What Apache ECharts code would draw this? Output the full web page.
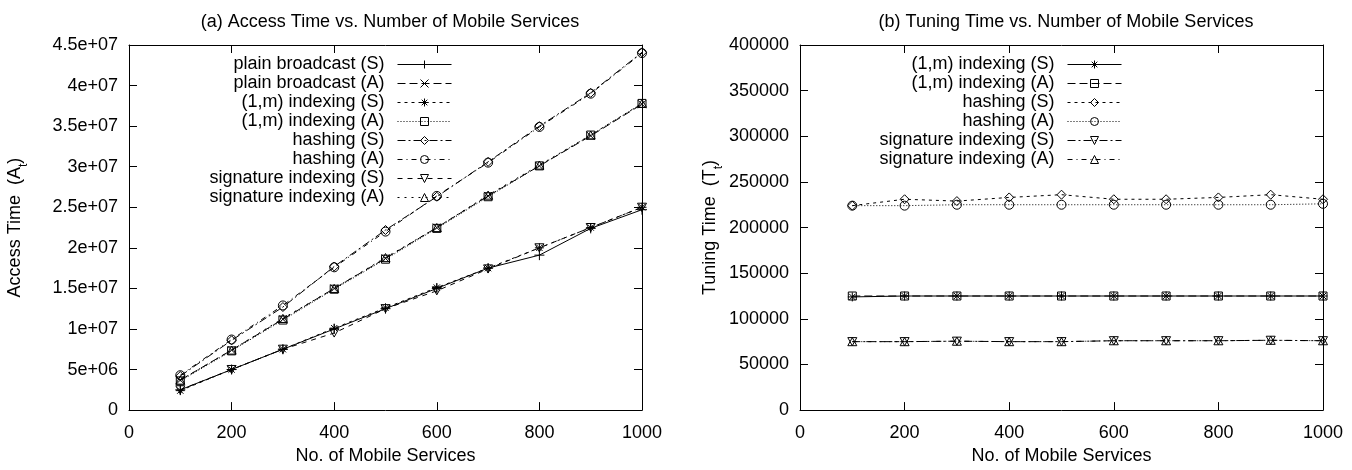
<!DOCTYPE html>
<html><head><meta charset="utf-8">
<script src="https://cdn.jsdelivr.net/npm/echarts@6/dist/echarts.min.js"></script>
<style>html,body{margin:0;padding:0;background:#fff}#c{width:1352px;height:470px}</style>
</head><body><div id="c"></div>
<script>
const services = [100, 200, 300, 400, 500, 600, 700, 800, 900, 1000];
const xTicks = ['0', '200', '400', '600', '800', '1000'];
const accessTicks = ['0', '5e+06', '1e+07', '1.5e+07', '2e+07', '2.5e+07', '3e+07', '3.5e+07', '4e+07', '4.5e+07'];
const tuningTicks = ['0', '50000', '100000', '150000', '200000', '250000', '300000', '350000', '400000'];

// (a) access time
const accPlainS = [2.5e6, 5.0e6, 7.5e6, 10.0e6, 12.5e6, 15.0e6, 17.5e6, 19.1e6, 22.4e6, 24.7e6];
const accPlainA = [3.7e6, 7.4e6, 11.2e6, 15.0e6, 18.7e6, 22.5e6, 26.4e6, 30.1e6, 33.8e6, 37.7e6];
const accOneMS = [2.4e6, 5.0e6, 7.5e6, 10.1e6, 12.6e6, 15.1e6, 17.5e6, 20.0e6, 22.5e6, 25.0e6];
const accOneMA = [3.6e6, 7.3e6, 11.1e6, 14.9e6, 18.6e6, 22.4e6, 26.3e6, 30.1e6, 33.9e6, 37.8e6];
const accHashS = [4.2e6, 8.6e6, 12.7e6, 17.7e6, 22.2e6, 26.3e6, 30.6e6, 35.0e6, 39.1e6, 44.1e6];
const accHashA = [4.3e6, 8.7e6, 12.9e6, 17.6e6, 22.0e6, 26.4e6, 30.5e6, 34.9e6, 39.0e6, 44.0e6];
const accSigS = [2.5e6, 5.0e6, 7.5e6, 9.5e6, 12.5e6, 14.7e6, 17.4e6, 20.0e6, 22.5e6, 25.0e6];
const accSigA = [3.7e6, 7.4e6, 11.3e6, 15.0e6, 18.8e6, 22.5e6, 26.5e6, 30.2e6, 33.9e6, 37.8e6];

// (b) tuning time
const tunOneMS = [124000, 125000, 125000, 125000, 125000, 125000, 125000, 125000, 125000, 125000];
const tunOneMA = [125000, 125000, 125000, 125000, 125000, 125000, 125000, 125000, 125000, 125000];
const tunHashS = [224000, 231000, 229000, 233000, 236000, 231000, 231000, 233000, 236000, 231000];
const tunHashA = [224000, 224000, 225000, 225000, 225000, 225000, 225000, 225000, 225000, 226000];
const tunSigS = [75000, 75000, 75500, 75000, 75000, 76000, 76000, 76000, 76500, 76000];
const tunSigA = [75000, 75000, 75500, 75000, 75000, 76000, 76000, 76000, 76500, 76000];

const FONT = '"Liberation Sans", Arial, Helvetica, sans-serif';
const SYM = {
  plus: 'path://M5,0L5,10M0,5L10,5',
  cross: 'path://M0,0L10,10M10,0L0,10',
  star: 'path://M5,0L5,10M0,5L10,5M1.5,1.5L8.5,8.5M8.5,1.5L1.5,8.5',
  square: 'path://M0,0L10,0L10,10L0,10Z',
  diamond: 'path://M5,0L10,5L5,10L0,5Z',
  circle: 'path://M5,0A5,5,0,1,1,5,10A5,5,0,1,1,5,0Z',
  tdown: 'path://M0,0L10,0L5,9Z',
  tup: 'path://M5,0L10,9L0,9Z'
};
const DASH = {
  solid: 'solid',
  long: [8, 4],
  short: [3, 4],
  dot: [1, 2],
  dashdot: [8, 3, 2, 3],
  dashdot2: [5, 4, 1, 4],
  med: [5, 5],
  sm: [2, 5]
};
function mk(name, data, sym, dash, xi, yi, size) {
  return {
    name: name, type: 'line', xAxisIndex: xi, yAxisIndex: yi,
    data: services.map((x, i) => [x, data[i]]),
    symbol: SYM[sym], symbolSize: size || 8, symbolKeepAspect: true,
    showSymbol: true, animation: false,
    lineStyle: { color: '#000', width: 1, type: DASH[dash] },
    itemStyle: { color: 'rgba(0,0,0,0)', borderColor: '#000', borderWidth: 1 },
    emphasis: { disabled: true }
  };
}
const seriesA = [
  mk('plain broadcast (S)', accPlainS, 'plus', 'solid', 0, 0, 10),
  mk('plain broadcast (A)', accPlainA, 'cross', 'long', 0, 0, 8),
  mk('(1,m) indexing (S)', accOneMS, 'star', 'short', 0, 0, 9),
  mk('(1,m) indexing (A)', accOneMA, 'square', 'dot', 0, 0, 8),
  mk('hashing (S)', accHashS, 'diamond', 'dashdot', 0, 0, 9),
  mk('hashing (A)', accHashA, 'circle', 'dashdot2', 0, 0, 9),
  mk('signature indexing (S)', accSigS, 'tdown', 'med', 0, 0, 9),
  mk('signature indexing (A)', accSigA, 'tup', 'sm', 0, 0, 9)
];
const seriesB = [
  mk('(1,m) indexing (S) ', tunOneMS, 'star', 'solid', 2, 2, 9),
  mk('(1,m) indexing (A) ', tunOneMA, 'square', 'long', 2, 2, 8),
  mk('hashing (S) ', tunHashS, 'diamond', 'short', 2, 2, 9),
  mk('hashing (A) ', tunHashA, 'circle', 'dot', 2, 2, 9),
  mk('signature indexing (S) ', tunSigS, 'tdown', 'dashdot', 2, 2, 9),
  mk('signature indexing (A) ', tunSigA, 'tup', 'dashdot2', 2, 2, 9)
];

const txt = { color: '#000', fontFamily: FONT, fontSize: 18 };
function xAx(grid, top) {
  return {
    type: 'value', gridIndex: grid, position: top ? 'top' : 'bottom',
    min: 0, max: 1000, interval: 200,
    axisLine: { show: true, onZero: false, lineStyle: { color: '#000', width: 1 } },
    axisTick: { show: true, inside: true, length: 8, lineStyle: { color: '#000' } },
    splitLine: { show: false },
    axisLabel: top ? { show: false } : Object.assign({ margin: 14, formatter: v => xTicks[Math.round(v / 200)] }, txt),
    name: top ? '' : 'No. of Mobile Services', nameLocation: 'middle', nameGap: 36,
    nameTextStyle: txt
  };
}
function yAx(grid, right, max, step, ticks, name, gap) {
  return {
    type: 'value', gridIndex: grid, position: right ? 'right' : 'left',
    min: 0, max: max, interval: step,
    axisLine: { show: true, onZero: false, lineStyle: { color: '#000', width: 1 } },
    axisTick: { show: true, inside: true, length: 8, lineStyle: { color: '#000' } },
    splitLine: { show: false },
    axisLabel: right ? { show: false } : Object.assign({ margin: 11, formatter: v => ticks[Math.round(v / step)] }, txt),
    name: right ? '' : name, nameLocation: 'middle', nameGap: gap, nameRotate: 90,
    nameTextStyle: Object.assign({ rich: { sub: { fontSize: 12, fontFamily: FONT, color: '#000', verticalAlign: 'bottom', padding: [0, 0, -6, 0] } } }, txt)
  };
}
function legend(series, right) {
  return {
    data: series.map(s => s.name), orient: 'vertical', align: 'right',
    right: right, top: 55, padding: 0, itemGap: 0, itemWidth: 54, itemHeight: 10,
    selectedMode: false, formatter: n => n.trim(),
    lineStyle: { width: 1 },
    itemStyle: { borderWidth: 1 },
    textStyle: Object.assign({ lineHeight: 19, padding: [0, 8, 0, 0] }, txt)
  };
}
const chart = echarts.init(document.getElementById('c'), null, { renderer: 'canvas' });
chart.setOption({
  animation: false,
  backgroundColor: '#fff',
  title: [
    { text: '(a) Access Time vs. Number of Mobile Services', left: 385, top: 8, textAlign: 'center', textStyle: Object.assign({ fontWeight: 'normal' }, txt) },
    { text: '(b) Tuning Time vs. Number of Mobile Services', left: 1061, top: 8, textAlign: 'center', textStyle: Object.assign({ fontWeight: 'normal' }, txt) }
  ],
  grid: [
    { left: 129, top: 45, width: 513, height: 367 },
    { left: 800, top: 45, width: 523, height: 367 }
  ],
  xAxis: [xAx(0, false), xAx(0, true), xAx(1, false), xAx(1, true)],
  yAxis: [
    yAx(0, false, 4.5e7, 5e6, accessTicks, 'Access Time  (A{sub|t})', 105),
    yAx(0, true, 4.5e7, 5e6, accessTicks, '', 0),
    yAx(1, false, 400000, 50000, tuningTicks, 'Tuning Time  (T{sub|t})', 80),
    yAx(1, true, 400000, 50000, tuningTicks, '', 0)
  ],
  legend: [legend(seriesA, 900), legend(seriesB, 230)],
  series: seriesA.concat(seriesB)
});
</script></body></html>
